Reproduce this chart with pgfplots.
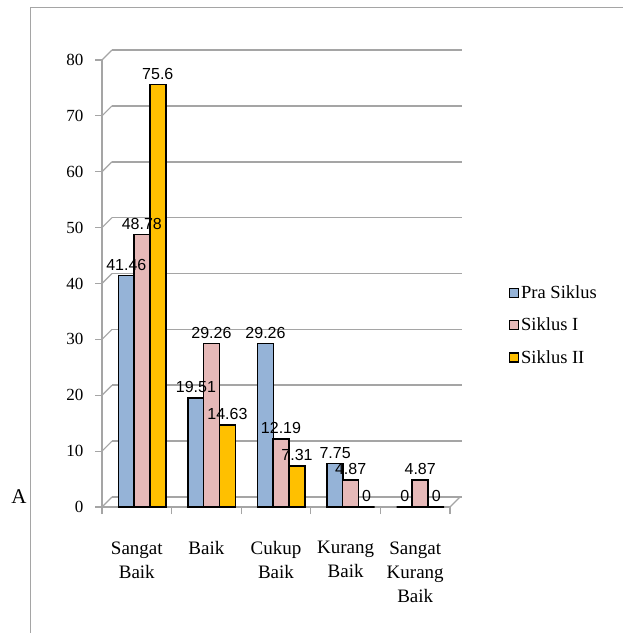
\documentclass[border=0pt]{standalone}
\usepackage{fontspec}
\setmainfont{Liberation Serif}
\newfontfamily\lblfont{Liberation Sans}
\usepackage{pgfplots}
\pgfplotsset{compat=1.18}

\definecolor{cPra}{RGB}{149,179,215}
\definecolor{cSa}{RGB}{230,185,184}
\definecolor{cSb}{RGB}{255,192,0}
\definecolor{gridgray}{RGB}{165,165,165}

\begin{document}
\begin{tikzpicture}[x=1pt,y=1pt]
\useasboundingbox (0,0) rectangle (623,633);
\node[font=\fontsize{21}{22}\selectfont] at (19,136) {A};
\fill[white] (30,0) rectangle (623,625);
\draw[gridgray, line width=1pt] (30,0) -- (30,625) -- (623,625);

% back wall: grid lines
\begin{axis}[
    at={(112pt,136pt)}, anchor=south west,
    scale only axis, width=350pt, height=447pt,
    xmin=-0.5, xmax=4.5, ymin=0, ymax=80,
    axis line style={draw=none}, tick style={draw=none},
    ytick={0,10,...,80}, xtick=\empty,
    ymajorgrids, yticklabels={},
    grid style={gridgray, line width=1.6pt},
]
\addplot[draw=none] coordinates {(0,0)};
\end{axis}

\begin{axis}[
    at={(102pt,126pt)}, anchor=south west,
    scale only axis, width=348pt, height=447pt,
    xmin=-0.5, xmax=4.5, ymin=0, ymax=80,
    axis x line*=bottom, axis y line*=left,
    axis line style={gridgray, line width=1.4pt, -},
    ytick={0,10,...,80},
    /pgf/number format/assume math mode=true,
    xtick={0,...,4},
    xticklabels={{Sangat\\Baik},{Baik},{Cukup\\Baik},{Kurang\\Baik},{Sangat\\Kurang\\Baik}},
    minor xtick={-0.5,0.5,...,4.5},
    tick align=outside,
    major x tick style={draw=none},
    minor tick length=7pt, major tick length=7pt,
    every tick/.style={gridgray, line width=1.2pt},
    xticklabel style={font=\fontsize{19}{24}\selectfont, align=center, yshift=-24pt},
    yticklabel style={font=\fontsize{17}{20}\selectfont, xshift=-8pt},
    ybar, bar width=16pt,
    nodes near coords={\lblfont\fontsize{16}{18}\selectfont\pgfmathprintnumber[assume math mode=true]{\pgfplotspointmeta}},
    every node near coord/.append style={black, yshift=1pt},
    legend style={at={(1.16,0.407)}, anchor=west, draw=none, fill=none,
        font=\rmfamily\fontsize{18.5}{20}\selectfont, row sep=14pt},
    legend cell align=left,
    legend image code/.code={\draw[#1, draw=black, line width=1.3pt] (0pt,-4.5pt) rectangle (9pt,4.5pt);},
    clip=false,
]
\addplot[fill=cPra, draw=black, line width=1.6pt, bar shift=-10.5pt]
    coordinates {(0,41.46) (1,19.51) (2,29.26) (3,7.75) (4,0)};
\addplot[fill=cSa, draw=black, line width=1.6pt, bar shift=5pt]
    coordinates {(0,48.78) (1,29.26) (2,12.19) (3,4.87) (4,4.87)};
\addplot[fill=cSb, draw=black, line width=1.6pt, bar shift=21pt]
    coordinates {(0,75.6) (1,14.63) (2,7.31) (3,0) (4,0)};
\legend{Pra Siklus, Siklus I, Siklus II}
\pgfplotsinvokeforeach{0,10,...,80}{
    \draw[gridgray, line width=1.2pt] (axis cs:-0.5,#1) -- ++(10pt,10pt);
}
\draw[gridgray, line width=1.2pt] (axis cs:4.5,0) -- ++(10pt,10pt);
\end{axis}
\end{tikzpicture}
\end{document}
